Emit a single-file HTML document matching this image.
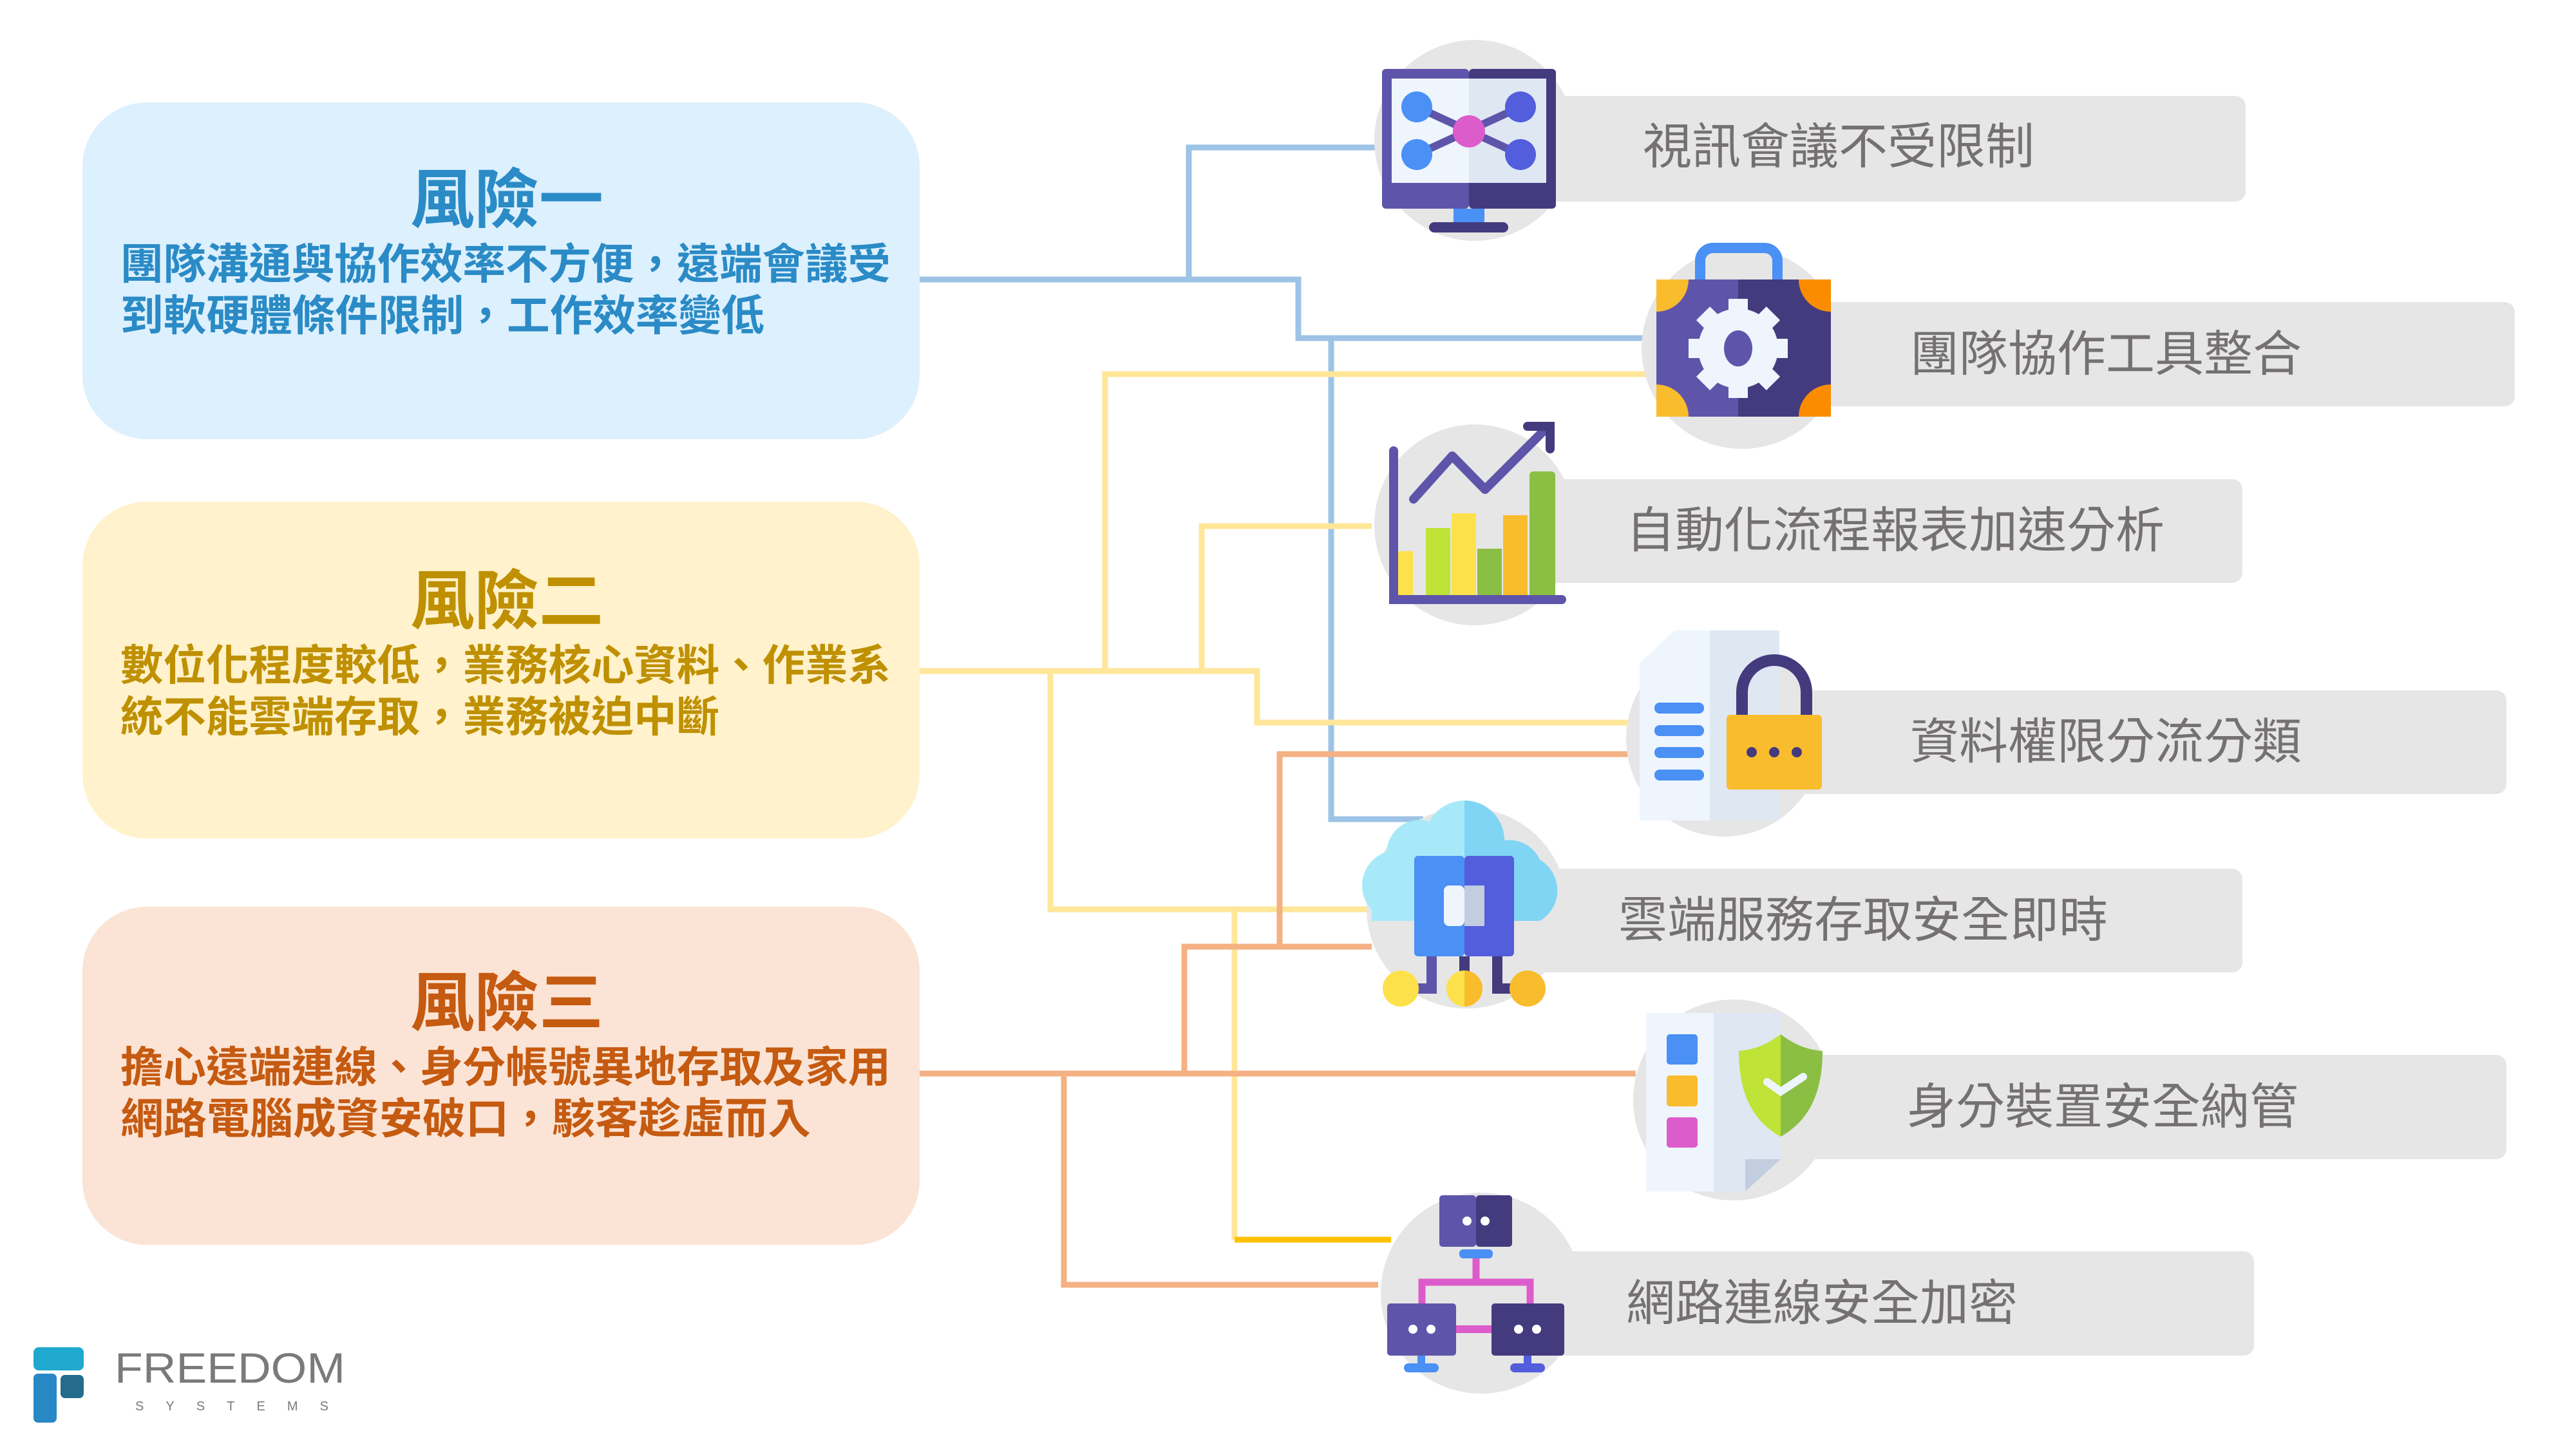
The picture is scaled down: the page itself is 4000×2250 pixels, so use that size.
<!DOCTYPE html>
<html><head><meta charset="utf-8"><style>
html,body{margin:0;padding:0;background:#fff;}
svg{display:block}
.t{font-family:"Liberation Sans","Noto Sans CJK TC",sans-serif;}
</style></head><body>
<svg width="4000" height="2250" viewBox="0 0 4000 2250" xmlns="http://www.w3.org/2000/svg">
<!-- left boxes -->
<rect x="128" y="159" width="1300" height="523" rx="100" fill="#ddf0fd"/>
<rect x="128" y="779" width="1300" height="523" rx="100" fill="#fff2cc"/>
<rect x="128" y="1408" width="1300" height="525" rx="100" fill="#fbe4d5"/>
<g class="t" font-weight="bold">
<text x="787" y="345" font-size="100" fill="#2a8bc6" text-anchor="middle">風險一</text>
<text x="187" y="433" font-size="66" fill="#2a8bc6" textLength="1196" lengthAdjust="spacingAndGlyphs">團隊溝通與協作效率不方便，遠端會議受</text>
<text x="187" y="513" font-size="66" fill="#2a8bc6" textLength="1000" lengthAdjust="spacingAndGlyphs">到軟硬體條件限制，工作效率變低</text>
<text x="787" y="968" font-size="100" fill="#bf9000" text-anchor="middle">風險二</text>
<text x="187" y="1056" font-size="66" fill="#bf9000" textLength="1196" lengthAdjust="spacingAndGlyphs">數位化程度較低，業務核心資料、作業系</text>
<text x="187" y="1136" font-size="66" fill="#bf9000" textLength="930" lengthAdjust="spacingAndGlyphs">統不能雲端存取，業務被迫中斷</text>
<text x="787" y="1592" font-size="100" fill="#c55a11" text-anchor="middle">風險三</text>
<text x="187" y="1680" font-size="66" fill="#c55a11" textLength="1196" lengthAdjust="spacingAndGlyphs">擔心遠端連線、身分帳號異地存取及家用</text>
<text x="187" y="1760" font-size="66" fill="#c55a11" textLength="1072" lengthAdjust="spacingAndGlyphs">網路電腦成資安破口，駭客趁虛而入</text>
</g>
<!-- connectors -->
<g fill="none" stroke-width="9" stroke-linejoin="miter">
<path stroke="#9dc3e6" d="M1428 434 H2016 V525 H2564"/>
<path stroke="#9dc3e6" d="M1846 434 V229 H2141"/>
<path stroke="#9dc3e6" d="M2067 525 V1272 H2210"/>
<path stroke="#ffe699" d="M1428 1042 H1952 V1122 H2540"/>
<path stroke="#ffe699" d="M1716 1042 V581 H2560"/>
<path stroke="#ffe699" d="M1866 1042 V817 H2130"/>
<path stroke="#ffe699" d="M1631 1042 V1412 H2130"/>
<path stroke="#ffe699" d="M1917 1412 V1925"/>
<path stroke="#ffc000" d="M1917 1925 H2160"/>
<path stroke="#f4b183" d="M1428 1667 H2540"/>
<path stroke="#f4b183" d="M1839 1667 V1470 H2130"/>
<path stroke="#f4b183" d="M1987 1470 V1171 H2540"/>
<path stroke="#f4b183" d="M1652 1667 V1995 H2140"/>
</g>
<!-- gray bars -->
<g fill="#e6e6e6">
<rect x="2350" y="149" width="1137" height="164" rx="16"/>
<rect x="2760" y="469" width="1145" height="162" rx="16"/>
<rect x="2350" y="744" width="1132" height="161" rx="16"/>
<rect x="2760" y="1072" width="1132" height="161" rx="16"/>
<rect x="2350" y="1349" width="1132" height="161" rx="16"/>
<rect x="2760" y="1638" width="1132" height="162" rx="16"/>
<rect x="2350" y="1943" width="1150" height="162" rx="16"/>
<circle cx="2290" cy="218" r="156"/>
<circle cx="2705" cy="541" r="156"/>
<circle cx="2290" cy="815" r="156"/>
<circle cx="2677" cy="1147" r="152"/>
<circle cx="2278" cy="1410" r="156"/>
<circle cx="2692" cy="1708" r="156"/>
<circle cx="2300" cy="2008" r="156"/>
</g>
<g class="t" font-size="76" fill="#757171">
<text x="2551" y="254">視訊會議不受限制</text>
<text x="2966" y="576">團隊協作工具整合</text>
<text x="2525" y="850">自動化流程報表加速分析</text>
<text x="2966" y="1178">資料權限分流分類</text>
<text x="2513" y="1455">雲端服務存取安全即時</text>
<text x="2961" y="1745">身分裝置安全納管</text>
<text x="2525" y="2050">網路連線安全加密</text>
</g>
<!-- icon 1 monitor -->
<rect x="2146" y="107" width="135" height="217" rx="6" fill="#5e55aa"/>
<rect x="2281" y="107" width="135" height="217" rx="6" fill="#443b7e"/>
<rect x="2161" y="122" width="120" height="162" fill="#eef5fd"/>
<rect x="2281" y="122" width="120" height="162" fill="#dfe7f3"/>
<rect x="2257" y="324" width="48" height="22" fill="#4a90f5"/>
<rect x="2219" y="345" width="123" height="16" rx="8" fill="#443b7e"/>
<g stroke="#5e55aa" stroke-width="12"><line x1="2200" y1="166" x2="2361" y2="240"/><line x1="2200" y1="240" x2="2361" y2="166"/></g>
<circle cx="2200" cy="166" r="24" fill="#4a90f5"/><circle cx="2200" cy="240" r="24" fill="#4a90f5"/>
<circle cx="2361" cy="166" r="24" fill="#525edb"/><circle cx="2361" cy="240" r="24" fill="#525edb"/>
<circle cx="2281" cy="204" r="25" fill="#dd5ccb"/>
<!-- icon 2 briefcase -->
<path d="M2640 434 V405 a20 20 0 0 1 20 -20 H2740 a20 20 0 0 1 20 20 V434" fill="none" stroke="#4a90f5" stroke-width="16"/>
<rect x="2572" y="434" width="127" height="213" fill="#5e55aa"/>
<rect x="2699" y="434" width="144" height="213" fill="#443b7e"/>
<path d="M2572 434 h50 a50 50 0 0 1 -50 50z M2572 647 h50 a50 50 0 0 0 -50 -50z" fill="#f9bc2c"/>
<path d="M2843 434 h-50 a50 50 0 0 0 50 50z M2843 647 h-50 a50 50 0 0 1 50 -50z" fill="#fb8c00"/>
<circle cx="2699" cy="541" r="62" fill="#eef5fd"/>
<g fill="#eef5fd"><rect x="2684" y="464" width="30" height="154"/><rect x="2622" y="526" width="154" height="30"/><rect x="2684" y="464" width="30" height="154" transform="rotate(45 2699 541)"/><rect x="2684" y="464" width="30" height="154" transform="rotate(-45 2699 541)"/></g>
<ellipse cx="2699" cy="541" rx="22" ry="28" fill="#5e55aa"/>
<!-- icon 3 chart -->
<rect x="2164" y="856" width="30" height="75" fill="#fde14a"/>
<rect x="2214" y="820" width="38" height="111" fill="#bfe336"/>
<rect x="2254" y="797" width="38" height="134" fill="#fde14a"/>
<rect x="2294" y="852" width="38" height="79" fill="#8bbf44"/>
<rect x="2334" y="800" width="38" height="131" fill="#f9bc2c"/>
<rect x="2375" y="732" width="40" height="199" rx="6" fill="#8bbf44"/>
<path d="M2164 700 V931 H2425" fill="none" stroke="#5e55aa" stroke-width="14" stroke-linecap="round"/>
<path d="M2195 775 L2255 708 L2306 760 L2402 664" fill="none" stroke="#5e55aa" stroke-width="14" stroke-linecap="round" stroke-linejoin="round"/>
<path d="M2372 662 H2407 V697" fill="none" stroke="#443b7e" stroke-width="14" stroke-linecap="round"/>
<!-- icon 4 doc lock -->
<path d="M2546 1030 L2600 979 H2655 V1274 H2546z" fill="#eef5fd"/>
<rect x="2655" y="979" width="108" height="295" fill="#dfe7f3"/>
<g fill="#4a90f5"><rect x="2569" y="1091" width="77" height="17" rx="8"/><rect x="2569" y="1126" width="77" height="17" rx="8"/><rect x="2569" y="1160" width="77" height="17" rx="8"/><rect x="2569" y="1195" width="77" height="17" rx="8"/></g>
<path d="M2705 1110 V1075 a50 50 0 0 1 100 0 V1110" fill="none" stroke="#443b7e" stroke-width="18"/>
<rect x="2681" y="1110" width="148" height="116" rx="6" fill="#f9bc2c"/>
<g fill="#443b7e"><circle cx="2720" cy="1168" r="8"/><circle cx="2755" cy="1168" r="8"/><circle cx="2790" cy="1168" r="8"/></g>
<!-- icon 5 cloud -->
<g fill="#a8e9f9"><circle cx="2170" cy="1375" r="55"/><circle cx="2205" cy="1325" r="52"/><circle cx="2274" cy="1305" r="62"/><rect x="2130" y="1360" width="144" height="70"/></g>
<g fill="#7fd5f3"><path d="M2274 1243 a62 62 0 0 1 62 62 a52 52 0 0 1 55 30 a55 55 0 0 1 0 95 H2274z"/></g>
<rect x="2196" y="1329" width="78" height="156" rx="6" fill="#4a90f5"/>
<rect x="2274" y="1329" width="77" height="156" rx="6" fill="#525edb"/>
<rect x="2242" y="1375" width="32" height="63" rx="8" fill="#eef5fd"/>
<rect x="2274" y="1375" width="31" height="63" fill="#c2cde0"/>
<g fill="none" stroke-width="16"><path d="M2223 1485 V1535 H2180" stroke="#5e55aa"/><path d="M2274 1485 V1510" stroke="#443b7e"/><path d="M2325 1485 V1535 H2370" stroke="#443b7e"/></g>
<circle cx="2175" cy="1535" r="28" fill="#fde14a"/><circle cx="2274" cy="1535" r="28" fill="#fde14a"/><path d="M2274 1507 a28 28 0 0 1 0 56z" fill="#f9bc2c"/><circle cx="2372" cy="1535" r="28" fill="#f9bc2c"/>
<!-- icon 6 doc shield -->
<rect x="2556" y="1573" width="105" height="277" fill="#eef5fd"/>
<path d="M2661 1573 H2765 V1800 L2710 1850 H2661z" fill="#dfe7f3"/>
<path d="M2765 1800 H2710 V1850z" fill="#c2cde0"/>
<rect x="2588" y="1606" width="48" height="47" rx="5" fill="#4a90f5"/>
<rect x="2588" y="1670" width="48" height="48" rx="5" fill="#f9bc2c"/>
<rect x="2588" y="1735" width="48" height="47" rx="5" fill="#dd5ccb"/>
<path d="M2765 1606 C2740 1625 2720 1630 2700 1632 C2700 1710 2730 1745 2765 1765z" fill="#bfe336"/>
<path d="M2765 1606 C2790 1625 2810 1630 2830 1632 C2830 1710 2800 1745 2765 1765z" fill="#8bbf44"/>
<path d="M2744 1680 L2765 1695 L2800 1672" fill="none" stroke="#eef5fd" stroke-width="12" stroke-linecap="round"/>
<!-- icon 7 network -->
<rect x="2235" y="1856" width="57" height="80" rx="5" fill="#5e55aa"/><rect x="2292" y="1856" width="56" height="80" rx="5" fill="#443b7e"/>
<g fill="#fff"><circle cx="2278" cy="1896" r="7"/><circle cx="2306" cy="1896" r="7"/></g>
<rect x="2266" y="1940" width="52" height="14" rx="6" fill="#4a90f5"/>
<path d="M2292 1954 V1991 H2208 V2024 M2292 1991 H2376 V2024" fill="none" stroke="#dd5ccb" stroke-width="11"/>
<rect x="2255" y="2058" width="70" height="12" fill="#dd5ccb"/>
<rect x="2154" y="2024" width="107" height="81" rx="5" fill="#5e55aa"/>
<rect x="2316" y="2024" width="113" height="81" rx="5" fill="#443b7e"/>
<g fill="#fff"><circle cx="2194" cy="2064" r="7"/><circle cx="2222" cy="2064" r="7"/><circle cx="2358" cy="2064" r="7"/><circle cx="2386" cy="2064" r="7"/></g>
<rect x="2201" y="2105" width="12" height="14" fill="#4a90f5"/><rect x="2180" y="2117" width="54" height="14" rx="7" fill="#4a90f5"/>
<rect x="2366" y="2105" width="12" height="14" fill="#525edb"/><rect x="2345" y="2117" width="54" height="14" rx="7" fill="#525edb"/>
<!-- logo -->
<rect x="52" y="2092" width="78" height="36" rx="8" fill="#1fa9cf"/>
<rect x="52" y="2133" width="36" height="76" rx="7" fill="#2887c5"/>
<rect x="94" y="2135" width="36" height="36" rx="7" fill="#246b8c"/>
<text class="t" x="178" y="2147" font-size="66" fill="#7a7a7a" textLength="358" lengthAdjust="spacingAndGlyphs">FREEDOM</text>
<text class="t" x="210" y="2190" font-size="20" fill="#7a7a7a" textLength="300" lengthAdjust="spacing">SYSTEMS</text>
</svg>
</body></html>
